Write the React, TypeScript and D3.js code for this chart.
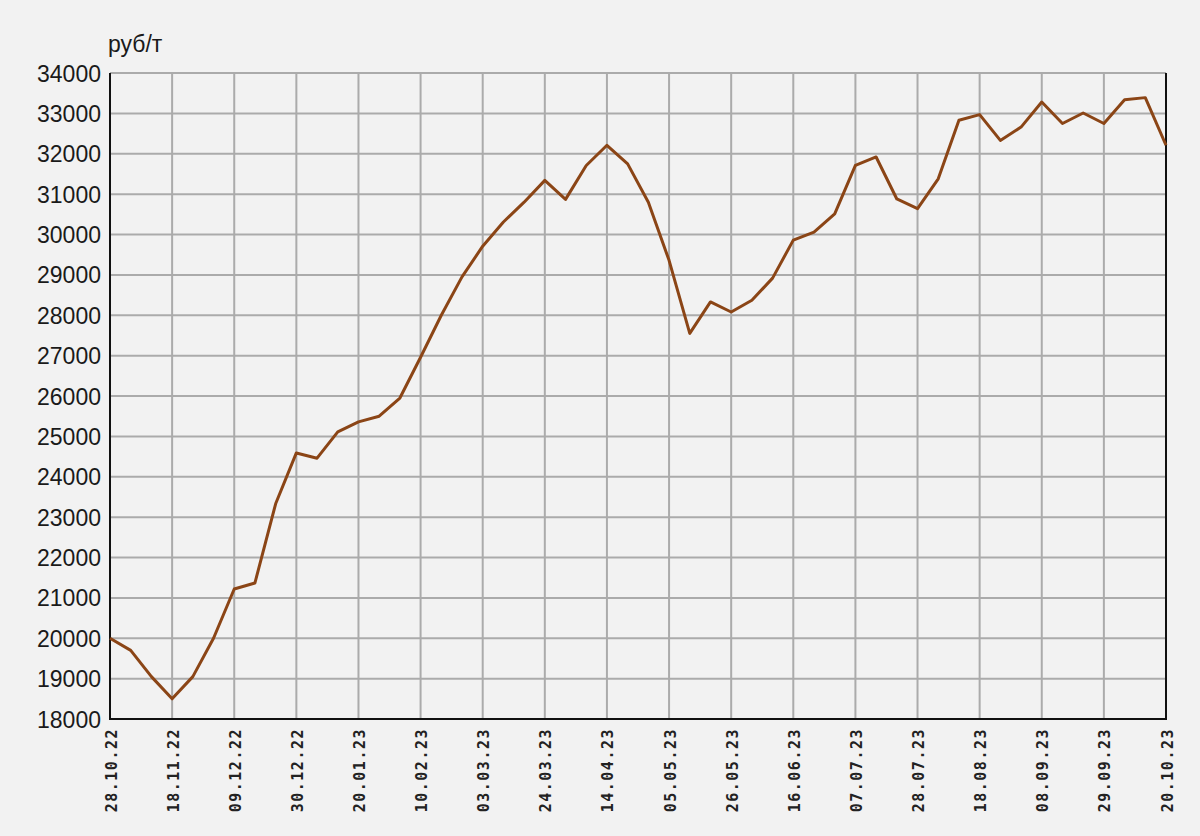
import React from "react";
import * as d3 from "d3";

const dates: string[] = [
  "28.10.22","04.11.22","11.11.22","18.11.22","25.11.22","02.12.22","09.12.22","16.12.22","23.12.22","30.12.22",
  "06.01.23","13.01.23","20.01.23","27.01.23","03.02.23","10.02.23","17.02.23","24.02.23","03.03.23","10.03.23",
  "17.03.23","24.03.23","31.03.23","07.04.23","14.04.23","21.04.23","28.04.23","05.05.23","12.05.23","19.05.23",
  "26.05.23","02.06.23","09.06.23","16.06.23","23.06.23","30.06.23","07.07.23","14.07.23","21.07.23","28.07.23",
  "04.08.23","11.08.23","18.08.23","25.08.23","01.09.23","08.09.23","15.09.23","22.09.23","29.09.23","06.10.23",
  "13.10.23","20.10.23",
];

const prices: number[] = [
  20000, 19700, 19050, 18500, 19050, 20000, 21220, 21370, 23330, 24590,
  24460, 25110, 25360, 25500, 25950, 26960, 28000, 28950, 29710, 30310,
  30800, 31340, 30870, 31710, 32210, 31750, 30800, 29360, 27550, 28330,
  28080, 28370, 28920, 29860, 30060, 30510, 31710, 31920, 30880, 30640,
  31380, 32830, 32970, 32330, 32660, 33280, 32750, 33010, 32750, 33340,
  33390, 32210,
];

const yTicks: number[] = [18000,19000,20000,21000,22000,23000,24000,25000,26000,27000,28000,29000,30000,31000,32000,33000,34000];
const unitLabel = "руб/т";

export default function App() {
  const W = 1200, H = 836;
  const left = 110, right = 1166, top = 73, bottom = 719;
  const x = d3.scaleLinear().domain([0, dates.length - 1]).range([left, right]);
  const y = d3.scaleLinear().domain([18000, 34000]).range([bottom, top]);
  const line = d3.line<number>().x((_, i) => x(i)).y((d) => y(d));
  const xTickIdx = dates.map((_, i) => i).filter((i) => i % 3 === 0);
  const grid = "#ababab";
  return (
    <div style={{ position: "fixed", left: 0, top: 0, width: W, height: H, background: "#f2f2f2" }}>
      <svg width={W} height={H} style={{ display: "block" }}>
        <rect x={0} y={0} width={W} height={H} fill="#f2f2f2" />
        {yTicks.map((t) => (
          <line key={"gy" + t} x1={left} x2={right} y1={y(t)} y2={y(t)} stroke={grid} strokeWidth={2} />
        ))}
        {xTickIdx.map((i) => (
          <line key={"gx" + i} x1={x(i)} x2={x(i)} y1={top} y2={bottom} stroke={grid} strokeWidth={2} />
        ))}
        <line x1={left} x2={left} y1={top} y2={bottom + 1} stroke="#111" strokeWidth={2} />
        <line x1={right} x2={right} y1={top} y2={bottom + 1} stroke="#111" strokeWidth={2} />
        <line x1={left - 1} x2={right + 1} y1={bottom} y2={bottom} stroke="#111" strokeWidth={2} />
        {yTicks.map((t) => (
          <text key={"ty" + t} x={101} y={y(t) + 8.5} textAnchor="end" fontFamily="Liberation Sans, Arial, sans-serif" fontSize={23} fill="#1a1a1a">
            {t}
          </text>
        ))}
        <text x={108} y={52} fontFamily="Liberation Sans, Arial, sans-serif" fontSize={23} fill="#1a1a1a">{unitLabel}</text>
        {xTickIdx.map((i) => (
          <text
            key={"tx" + i}
            transform={`translate(${x(i) + 6.5},${bottom + 9}) rotate(-90)`}
            textAnchor="end"
            fontFamily="DejaVu Sans Mono, monospace"
            fontWeight="bold"
            fontSize={15}
            letterSpacing={1.5}
            fill="#222"
          >
            {dates[i]}
          </text>
        ))}
        <path d={line(prices) || ""} fill="none" stroke="#8b4516" strokeWidth={3} strokeLinejoin="round" />
      </svg>
    </div>
  );
}
